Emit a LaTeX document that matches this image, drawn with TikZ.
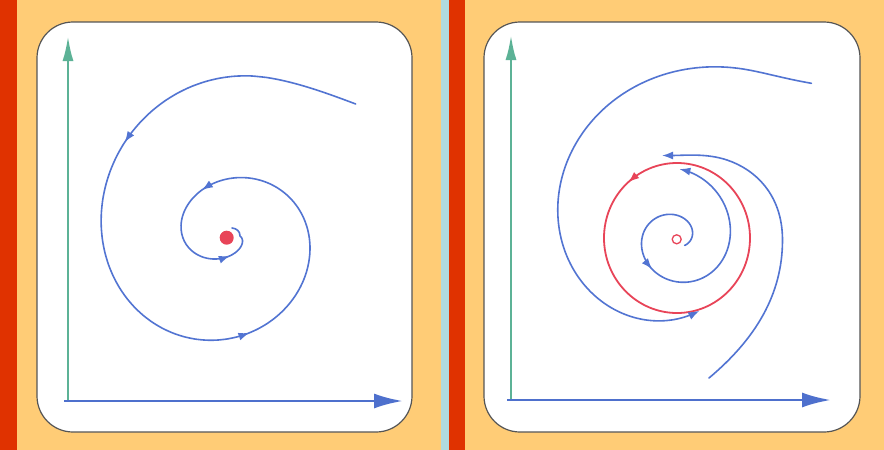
\documentclass[tikz,border=0pt]{standalone}
\usetikzlibrary{arrows.meta}
\definecolor{bgorange}{RGB}{255,204,118}
\definecolor{stripred}{RGB}{224,50,0}
\definecolor{stripblue}{RGB}{176,218,222}
\definecolor{boxgray}{RGB}{85,85,85}
\definecolor{trajblue}{RGB}{82,116,210}
\definecolor{axisblue}{RGB}{78,112,205}
\definecolor{axisgreen}{RGB}{92,178,150}
\definecolor{cyclered}{RGB}{232,68,88}
% left spiral (stable focus)
\newcommand\lsx[1]{227+(173.7-103*((#1)/360)+11.33*((#1)/360)^2)*cos(#1)}
\newcommand\lsy[1]{236-(190.75-132*((#1)/360)+20*((#1)/360)^2)*sin(#1)}
% right inner spiral (unstable, outward)
\newcommand\rix[1]{676+(15.7+9.68*((#1)/100)+0.266*((#1)/100)^2)*cos(#1)}
\newcommand\riy[1]{238-(14.56+8.67*((#1)/100)+0.787*((#1)/100)^2)*sin(#1)}
% right outer spiral (inward)
\newcommand\rob[1]{max(0,1-((#1)-49)/20)}
\newcommand\ror[1]{(234-75*((#1)/90)+8*((#1)/90)^2+9.4*\rob{#1}*\rob{#1}*\rob{#1})}
\newcommand\rox[1]{677+\ror{#1}*cos(#1)}
\newcommand\roy[1]{238-\ror{#1}*sin(#1)}
\begin{document}
\begin{tikzpicture}[x=1pt,y=-1pt,
  panel/.style={fill=white,draw=boxgray,line width=1.2pt,rounded corners=36pt},
  traj/.style={draw=trajblue,line width=1.6pt,line cap=round},
  cyc/.style={draw=cyclered,line width=1.8pt},
  yaxis/.style={draw=axisgreen,line width=2.6pt,-{Latex[length=25pt,width=11pt]}},
  xaxis/.style={draw=axisblue,line width=2.8pt,-{Latex[length=29pt,width=15pt]}},
  tip/.style={-{Latex[length=11pt,width=8pt]}},
]
\useasboundingbox (0,0) rectangle (884,450);
\fill[bgorange] (0,0) rectangle (884,450);
\fill[stripred] (0,0) rectangle (17,450);
\fill[stripblue] (441,0) rectangle (448.5,450);
\fill[stripred] (448.5,0) rectangle (464.5,450);
\draw[panel] (37,22) rectangle (412,432);
\draw[panel] (484,22) rectangle (860,432);

% left axes
\coordinate (LO) at (68,401);
\coordinate (LXs) at (64,401);
\coordinate (LY) at (68,36);
\coordinate (LX) at (403,401);
\draw[yaxis] (LO) -- (LY);
\draw[xaxis] (LXs) -- (LX);

% right axes
\coordinate (RO) at (511,400);
\coordinate (RXs) at (507,400);
\coordinate (RY) at (511,35);
\coordinate (RX) at (831,400);
\draw[yaxis] (RO) -- (RY);
\draw[xaxis] (RXs) -- (RX);

% ---------- left: stable focus ----------
\draw[traj] (355.7,104) .. controls (327.6,93.4) and (296.2,81.9) .. ({\lsx{75}},{\lsy{75}})
  -- plot[domain=75:720, samples=110, smooth, variable=\t] ({\lsx{\t}},{\lsy{\t}})
  .. controls (240,231) and (236.5,228.5) .. (232,228);
\foreach \a/\b [count=\i] in {136/139, 279/283, 470/476, 626/636}{
  \coordinate (la\i) at ({\lsx{\a}},{\lsy{\a}});
  \coordinate (lb\i) at ({\lsx{\b}},{\lsy{\b}});
  \draw[traj, tip] (la\i) -- (lb\i);
}
\node[circle, fill=cyclered, minimum size=14pt, inner sep=0pt] (eq1) at (226.7,237.7) {};

% ---------- right: limit cycle ----------
\coordinate (lc) at (677,238);
\draw[cyc] (lc) ellipse [x radius=73pt, y radius=75pt];
\coordinate (lcA) at (633.1,178.1);
\coordinate (lcB) at (628.2,182.3);
\draw[cyc, tip] (lcA) -- (lcB);
\node[circle, draw=cyclered, line width=1.3pt, minimum size=9pt, inner sep=0pt] (eq2) at (676.7,239.3) {};

% inner spiral (outward)
\draw[traj, tip] plot[domain=-42:447, samples=90, smooth, variable=\t] ({\rix{\t}},{\riy{\t}});
\coordinate (ia) at ({\rix{226}},{\riy{226}});
\coordinate (ib) at ({\rix{233}},{\riy{233}});
\draw[traj, tip] (ia) -- (ib);

% outer spiral 1 (inward, from top right)
\draw[traj, tip] plot[domain=49:287, samples=70, smooth, variable=\t] ({\rox{\t}},{\roy{\t}});

% outer spiral 2 (inward, from bottom right)
\coordinate (s2a) at (709,378);
\coordinate (s2b) at (782.5,240);
\coordinate (s2c) at (727,160);
\coordinate (s2d) at (662,155.5);
\draw[traj, tip] (s2a) .. controls (755,339.4) and (782.5,295) .. (s2b)
  .. controls (782.5,195) and (755.5,169.5) .. (s2c)
  .. controls (706.1,153) and (684,155.5) .. (s2d);
\end{tikzpicture}
\end{document}
